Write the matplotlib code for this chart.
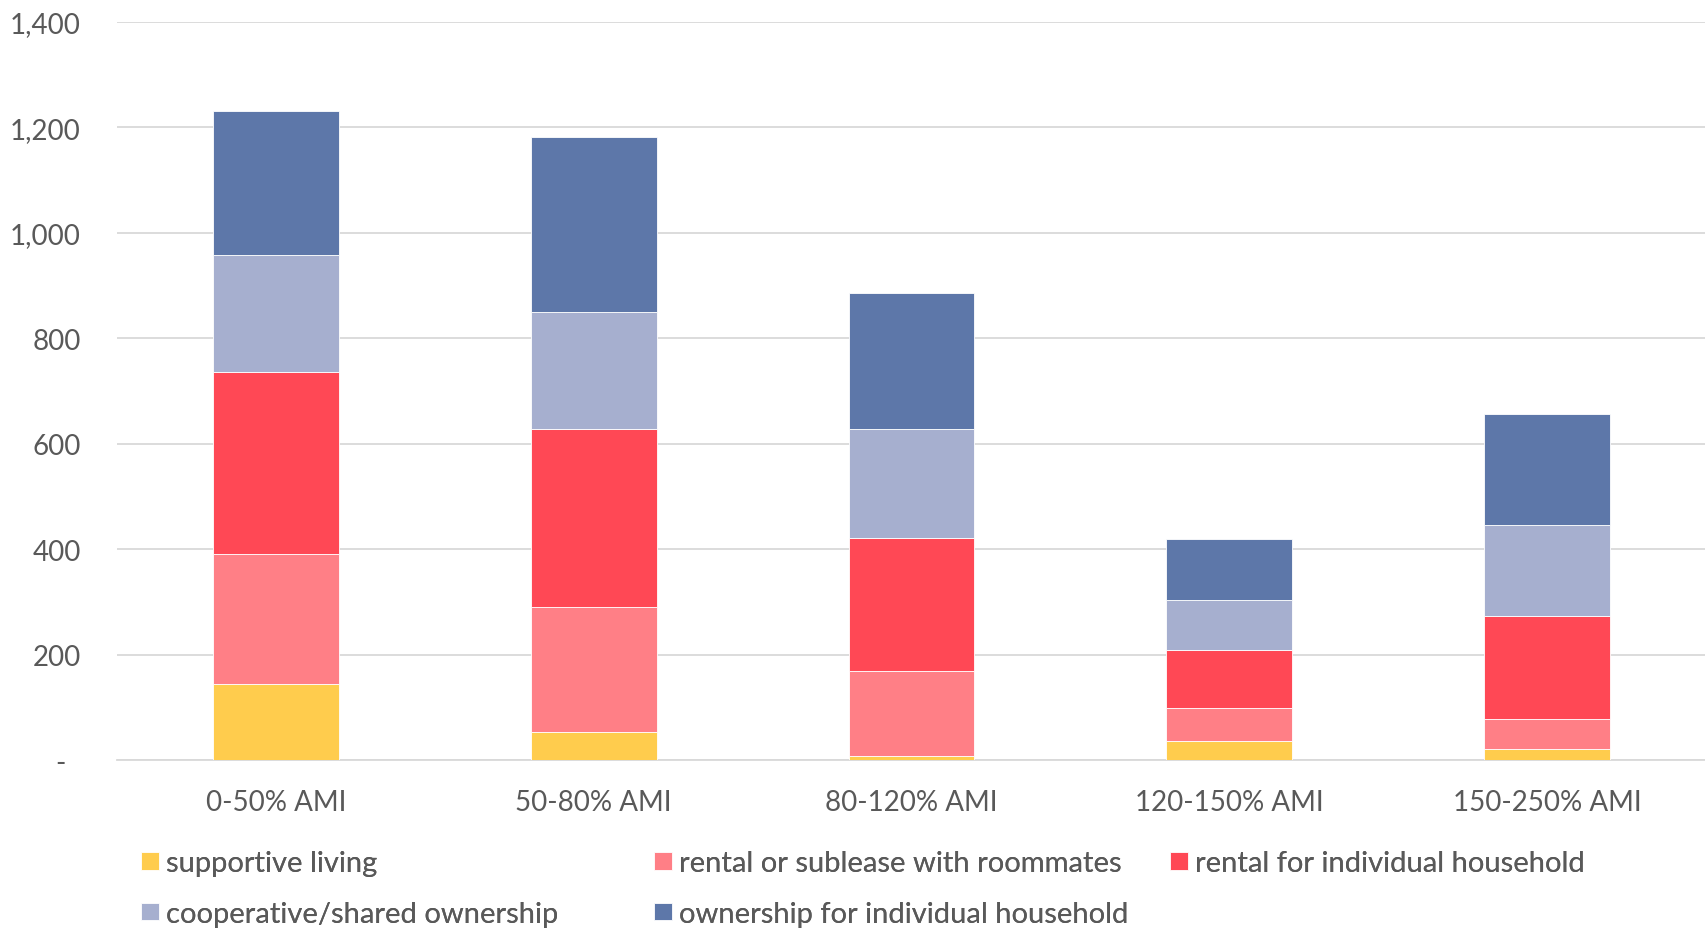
import numpy as np
import matplotlib.pyplot as plt
from matplotlib.ticker import FuncFormatter

plt.rcParams['font.family'] = ['Lato', 'DejaVu Sans']

categories = ['0-50% AMI', '50-80% AMI', '80-120% AMI', '120-150% AMI', '150-250% AMI']
supportive = [144, 53, 7, 37, 21]
roommates = [247, 238, 162, 61, 56]
rental_ind = [344, 337, 252, 110, 196]
coop = [223, 222, 207, 96, 172]
owner = [272, 332, 257, 116, 212]

series = [
    ('supportive living', supportive, '#FFCC4D'),
    ('rental or sublease with roommates', roommates, '#FF7F86'),
    ('rental for individual household', rental_ind, '#FF4855'),
    ('cooperative/shared ownership', coop, '#A6AFCF'),
    ('ownership for individual household', owner, '#5D77A9'),
]

fig = plt.figure(figsize=(17.06, 9.29), dpi=100)
ax = fig.add_axes([0.0686, 0.1808, 0.9314, 0.7948])

x = np.arange(len(categories))
bottom = np.zeros(len(categories))
handles = {}
for name, vals, col in series:
    bars = ax.bar(x, vals, width=0.396, bottom=bottom, color=col,
                  edgecolor='white', linewidth=0.6, label=name, zorder=3)
    handles[name] = bars
    bottom += np.array(vals)

ax.set_xlim(-0.5, 4.5)
ax.set_ylim(0, 1400)
ax.set_yticks(np.arange(0, 1401, 200))
ax.yaxis.set_major_formatter(FuncFormatter(lambda v, p: '-  ' if v == 0 else f'{int(v):,}'))
ax.set_xticks(x)
ax.set_xticklabels(categories)
ax.grid(axis='y', color='#D9D9D9', linewidth=1.3, zorder=0)
for s in ['top', 'right', 'left']:
    ax.spines[s].set_visible(False)
ax.spines['bottom'].set_color('#D9D9D9')
ax.spines['bottom'].set_linewidth(1.3)
ax.tick_params(axis='both', length=0, labelsize=20, labelcolor='#595959')
ax.tick_params(axis='y', pad=26)
ax.tick_params(axis='x', pad=21)

# legend laid out in rows like the original, one legend per column
cols = [
    (141, ['supportive living', 'cooperative/shared ownership']),
    (654, ['rental or sublease with roommates', 'ownership for individual household']),
    (1170, ['rental for individual household']),
]
for xpix, names in cols:
    leg = fig.legend([handles[n] for n in names], names, loc='upper left',
                     bbox_to_anchor=(xpix / 1706, 1 - 851 / 929), frameon=False,
                     fontsize=21, handlelength=0.62, handleheight=0.57,
                     handletextpad=0.25, labelspacing=0.85, borderpad=0,
                     borderaxespad=0)
    for t in leg.get_texts():
        t.set_color('#595959')
    fig.add_artist(leg)

fig.savefig('out.png', dpi=100)
